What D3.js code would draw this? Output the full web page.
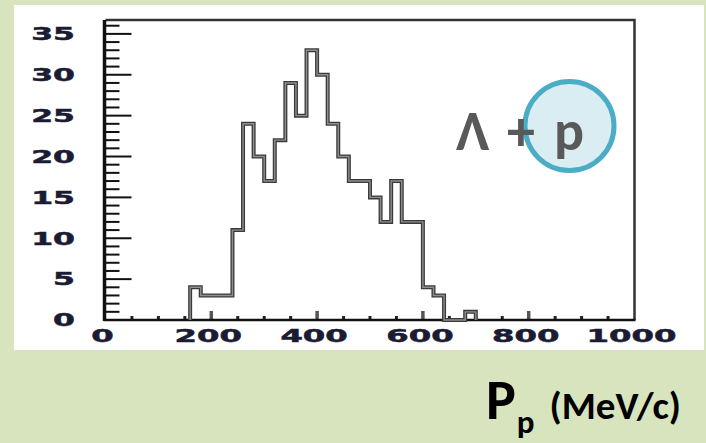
<!DOCTYPE html>
<html><head><meta charset="utf-8">
<script src="https://cdn.jsdelivr.net/npm/d3@7"></script>
<style>html,body{margin:0;padding:0;background:#d7e4bd;} svg{display:block}</style>
</head><body><svg id="c" width="706" height="443"></svg>
<script>
// ---- data ----
const binLow = [160,180,200,220,240,260,280,300,320,340,360,380,400,420,440,460,480,500,520,540,560,580,600,620,640,660,680];
const counts = [4,3,3,3,11,24,20,17,22,29,25,33,30,24,20,17,17,15,12,17,12,12,4,3,0,0,1];
const binWidth = 20;
const xTickLabels = [0,200,400,600,800,1000];
const yTickLabels = [0,5,10,15,20,25,30,35];
const xTitleMain = "P", xTitleSub = "p", xTitleUnit = "(MeV/c)";
const annotation = ["Λ", "+", "p"];

// ---- layout ----
const svg = d3.select("#c");
svg.append("rect").attr("x",0).attr("y",0).attr("width",706).attr("height",443).attr("fill","#d7e4bd");
svg.append("rect").attr("x",14).attr("y",5).attr("width",690).attr("height",345).attr("fill","#ffffff");

const x = d3.scaleLinear().domain([0,1000]).range([105.5,634.5]);
const y = d3.scaleLinear().domain([0,36.7]).range([320,20]);

// frame top & right
svg.append("path").attr("d",`M${x(0)},${y(36.7)}H${x(1000)}V${y(0)}`)
  .attr("fill","none").attr("stroke","#333").attr("stroke-width",2.5);

// y axis (ticks to the right, inside)
const yMinor = d3.range(0,37,1);
const yAx = svg.append("g");
yAx.selectAll("line.t").data(yMinor).join("line")
  .attr("x1",x(0)).attr("x2",d=> d%5===0 ? x(0)+26 : x(0)+14)
  .attr("y1",d=>y(d)).attr("y2",d=>y(d))
  .attr("stroke","#111").attr("stroke-width",2);
yAx.append("line").attr("x1",x(0)-1).attr("x2",x(0)-1).attr("y1",y(36.7)).attr("y2",y(0)+1)
  .attr("stroke","#111").attr("stroke-width",3.5);

// x axis (ticks upward)
const xMinor = d3.range(0,1001,50);
const xAx = svg.append("g");
xAx.selectAll("line.t").data(xMinor.filter(d=>d>0 && d<1000)).join("line")
  .attr("x1",d=>x(d)).attr("x2",d=>x(d))
  .attr("y1",y(0)).attr("y2",d=> d%200===0 ? y(0)-9 : y(0)-4)
  .attr("stroke",d=> d%200===0 ? "#555" : "#222").attr("stroke-width",d=> d%200===0 ? 3.5 : 3);
xAx.append("line").attr("x1",x(0)-2).attr("x2",x(1000)+1).attr("y1",y(0)).attr("y2",y(0))
  .attr("stroke","#111").attr("stroke-width",2.5);

// tick labels (wide bold font)
const lblFont = "'DejaVu Sans', sans-serif";
svg.append("g").selectAll("text").data(yTickLabels).join("text")
  .attr("transform",d=>`translate(75,${y(d)+6.3}) scale(1.85,1)`)
  .attr("text-anchor","end").attr("font-family",lblFont).attr("font-weight","bold")
  .attr("font-size",17).attr("fill","#1b1b33").attr("stroke","#1b1b33").attr("stroke-width",0.5).text(d=>d);
svg.append("g").selectAll("text").data(xTickLabels).join("text")
  .attr("transform",d=>`translate(${x(d)-3},342) scale(1.9,1)`)
  .attr("text-anchor","middle").attr("font-family",lblFont).attr("font-weight","bold")
  .attr("font-size",17).attr("fill","#1b1b33").attr("stroke","#1b1b33").attr("stroke-width",0.5).text(d=>d);

// histogram
const pts = [[binLow[0],0]].concat(binLow.map((b,i)=>[b,counts[i]]))
  .concat([[binLow[binLow.length-1]+binWidth, counts[counts.length-1]],[binLow[binLow.length-1]+binWidth,0]]);
const line = d3.line().x(d=>x(d[0])).y(d=>y(d[1])).curve(d3.curveStepAfter);
svg.append("path").attr("d",line(pts)).attr("fill","none").attr("stroke","#3a3a3a").attr("stroke-width",4);
svg.append("path").attr("d",line(pts)).attr("fill","none").attr("stroke","#8f8f8f").attr("stroke-width",1.4);

// annotation circle + text
svg.append("circle").attr("cx",569.5).attr("cy",126).attr("r",44.5)
  .attr("fill","#daedf3").attr("stroke","#4bacc6").attr("stroke-width",5);
const annFont = "Carlito, Lato, sans-serif";
const annX = [472.5, 521, 569];
svg.append("g").selectAll("text").data(annotation).join("text")
  .attr("x",(d,i)=>annX[i]).attr("y",150).attr("text-anchor","middle")
  .attr("font-family",annFont).attr("font-weight","bold").attr("font-size",56)
  .attr("fill","#595959").text(d=>d);

// x title
const t = svg.append("text").attr("x",486).attr("y",419)
  .attr("font-family",annFont).attr("font-weight","bold").attr("fill","#000");
t.append("tspan").attr("font-size",56).text(xTitleMain);
t.append("tspan").attr("font-size",33).attr("dy",14).attr("dx",1).text(xTitleSub);
t.append("tspan").attr("font-size",39).attr("dy",-14).attr("dx",15).text(xTitleUnit);
</script></body></html>
